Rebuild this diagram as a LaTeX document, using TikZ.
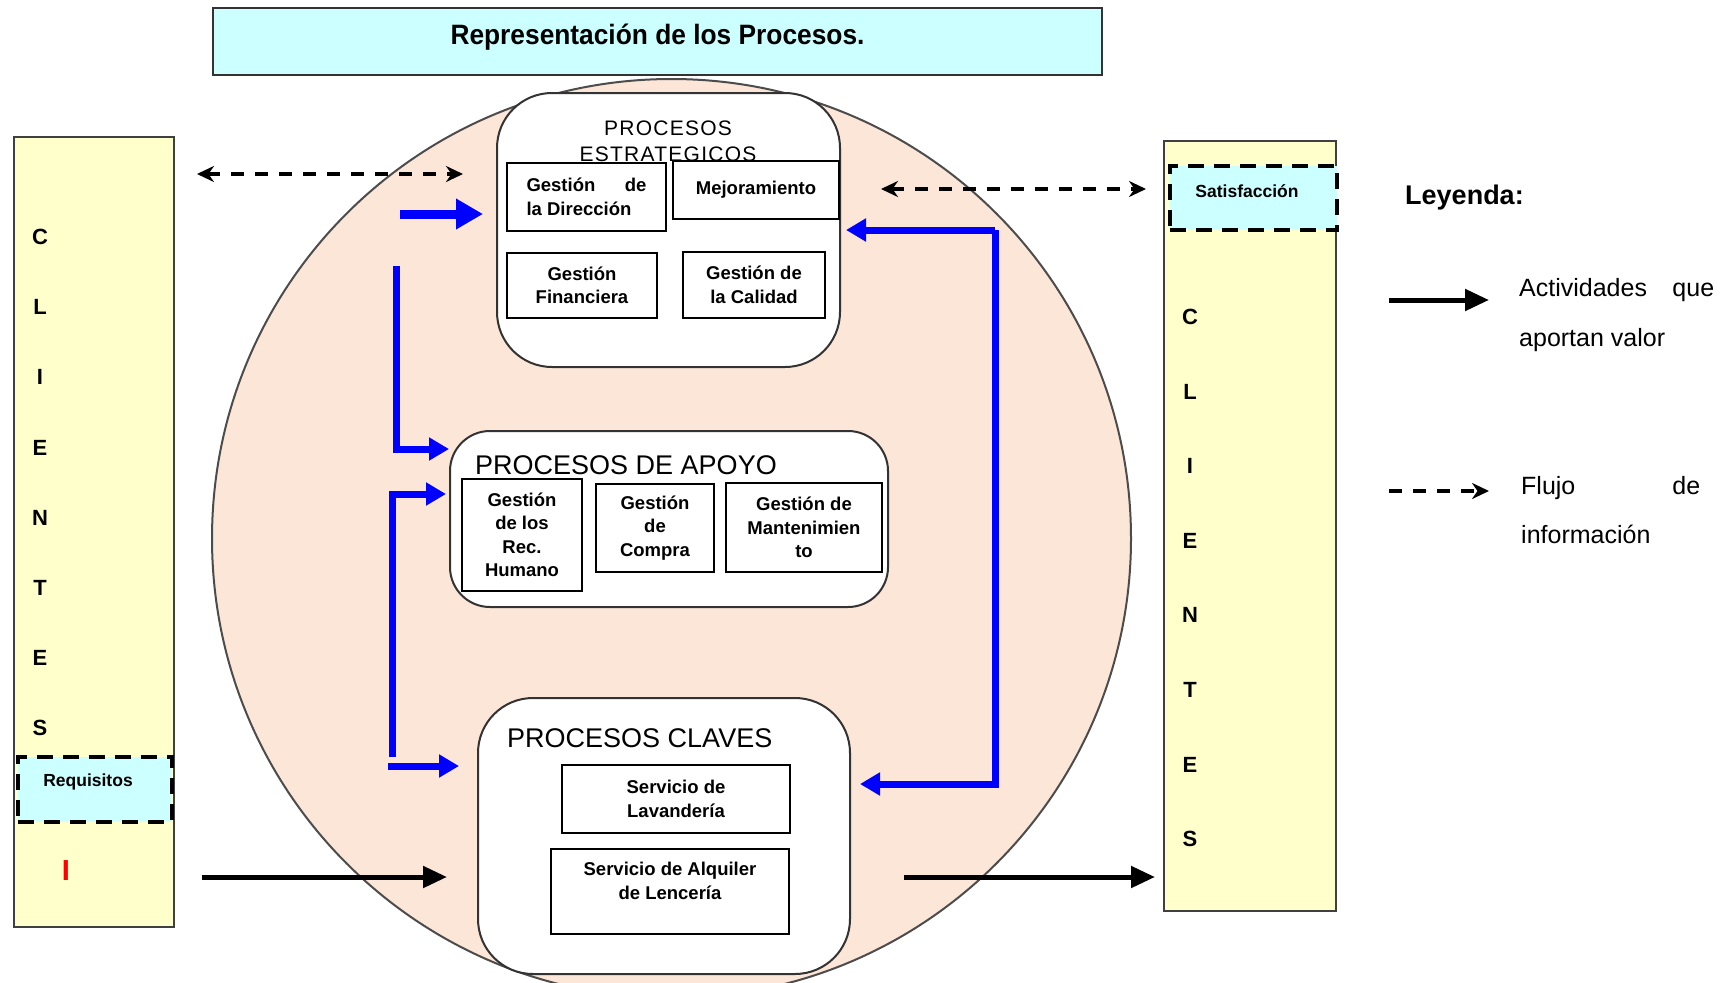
\documentclass[tikz,border=0pt]{standalone}
\usepackage{fontspec}
\setmainfont{Liberation Sans}
\newfontfamily\spacedfont[LetterSpace=6]{Liberation Sans}
\usetikzlibrary{arrows.meta}
\definecolor{peach}{RGB}{252,230,216}
\definecolor{cream}{RGB}{255,255,204}
\definecolor{paleblue}{RGB}{204,255,255}
\definecolor{flowblue}{RGB}{0,0,255}
\newcommand{\fs}[2]{\fontsize{#1}{#2}\selectfont}
\tikzset{
  client/.style={draw=black!75, line width=1.5pt, fill=cream, inner sep=0pt},
  dashbox/.style={draw=black, line width=4pt, dash pattern=on 16pt off 10pt, fill=paleblue, inner sep=0pt},
  group/.style={draw=black!80, line width=2pt, fill=white, inner sep=0pt},
  item/.style={draw=black, line width=1.5pt, fill=white, inner sep=0pt, align=center, font=\fs{18.5}{23.5}\bfseries},
  plain/.style={inner sep=0pt},
  letter/.style={inner sep=0pt, font=\fs{22}{26}\bfseries},
  bigflow/.style={draw=flowblue, line width=9pt, -{Triangle[length=27pt,width=29pt]}},
  flow/.style={draw=flowblue, line width=7pt, -{Triangle[length=20pt,width=22pt]}},
  valueflow/.style={draw=black, line width=5pt, -{Triangle[length=24pt,width=21pt]}},
  infoflow/.style={draw=black, line width=3.8pt, dash pattern=on 13pt off 11pt, {Stealth[length=17pt,width=16pt]}-{Stealth[length=17pt,width=16pt]}},
  infokey/.style={draw=black, line width=3.8pt, dash pattern=on 13pt off 11pt, -{Stealth[length=17pt,width=16pt]}}
}
\begin{document}
\begin{tikzpicture}[x=1pt,y=-1pt]
\useasboundingbox (0,0) rectangle (1728,982);

% title banner
\node[draw=black!80, line width=1.5pt, fill=paleblue, minimum width=889pt, minimum height=67pt, inner sep=0pt] (banner) at (657.5,41.5) {};
\node[plain, font=\fs{28}{32}\bfseries] (title) at (657.5,37) {\scalebox{0.94}[1]{Representación de los Procesos.}};

% process circle
\node[circle, draw=black!70, line width=2pt, fill=peach, minimum size=919pt, inner sep=0pt] (ring) at (671.5,538.5) {};

% client columns
\node[client, minimum width=160pt, minimum height=790pt] (cin) at (94,532) {};
\node[client, minimum width=172pt, minimum height=770pt] (cout) at (1250,526) {};

\foreach \ch [count=\i] in {C,L,I,E,N,T,E,S}
  \node[letter] (lin\i) at (40,{237+70.2*(\i-1)}) {\ch};
\foreach \ch [count=\i] in {C,L,I,E,N,T,E,S}
  \node[letter] (rin\i) at (1190,{317+74.6*(\i-1)}) {\ch};

\node[dashbox, minimum width=154pt, minimum height=65pt] (req) at (95,789.5) {};
\node[plain, font=\fs{17.5}{20}\bfseries] (reqt) at (88,782) {Requisitos};
\node[plain, text=red, font=\fs{29}{32}\bfseries] (redmark) at (66,871) {I};

\node[dashbox, minimum width=167pt, minimum height=64pt] (sat) at (1253.5,198) {};
\node[plain, font=\fs{17.5}{20}\bfseries] (satt) at (1247,191) {Satisfacción};

% strategic processes
\node[group, rounded corners=55pt, minimum width=343pt, minimum height=274pt] (strat) at (668.5,230) {};
\node[plain, align=center, font=\fs{21}{26}\spacedfont] (strath) at (668,141) {PROCESOS\\ESTRATEGICOS};
\node[item, minimum width=159pt, minimum height=68pt, align=left] (dir) at (586.5,197) {\makebox[120pt][s]{Gestión de}\\la Dirección};
\node[item, minimum width=166pt, minimum height=58pt] (mej) at (756,190) {Mejoramiento};
\node[item, minimum width=150pt, minimum height=65pt] (fin) at (582,285.5) {Gestión\\Financiera};
\node[item, minimum width=142pt, minimum height=66pt] (cal) at (754,285) {Gestión de\\la Calidad};

% support processes
\node[group, rounded corners=40pt, minimum width=438pt, minimum height=176pt] (apoyo) at (669,519) {};
\node[plain, anchor=west, font=\fs{27}{30}] (apoyoh) at (475,465) {PROCESOS DE APOYO};
\node[item, minimum width=120pt, minimum height=112pt] (rrhh) at (522,535) {Gestión\\de los\\Rec.\\Humano};
\node[item, minimum width=118pt, minimum height=88pt] (compra) at (655,528) {Gestión\\de\\Compra};
\node[item, minimum width=156pt, minimum height=89pt] (mant) at (804,527.5) {Gestión de\\Mantenimien\\to};

% key processes
\node[group, rounded corners=55pt, minimum width=372pt, minimum height=276pt] (claves) at (664,836) {};
\node[plain, anchor=west, font=\fs{27}{30}] (clavesh) at (507,738) {PROCESOS CLAVES};
\node[item, minimum width=228pt, minimum height=68pt] (lav) at (676,799) {Servicio de\\Lavandería};
\node[item, minimum width=238pt, minimum height=85pt] (alq) at (670,891.5) {};
\node[plain, align=center, font=\fs{18.5}{24}\bfseries] (alqt) at (670,880.5) {Servicio de Alquiler\\de Lencería};

% flow end points
\coordinate (s1) at (400,214);   \coordinate (e1) at (483,214);
\coordinate (s2) at (396,266);   \coordinate (k2) at (396,449);  \coordinate (e2) at (449,449);
\coordinate (s3) at (392,757);   \coordinate (k3) at (392,494);  \coordinate (e3) at (446,494);
\coordinate (s4) at (388,766);   \coordinate (e4) at (459,766);
\coordinate (e5) at (846,230);   \coordinate (k5) at (995,230);
\coordinate (k6) at (995,784);   \coordinate (e6) at (860,784);
\coordinate (d1a) at (197,174);  \coordinate (d1b) at (463,174);
\coordinate (d2a) at (881,189);  \coordinate (d2b) at (1146,189);
\coordinate (v1a) at (202,877);  \coordinate (v1b) at (447,877);
\coordinate (v2a) at (904,877);  \coordinate (v2b) at (1155,877);

% blue internal flows
\draw[bigflow] (s1) -- (e1);
\draw[flow] (s2) -- (k2) -- (e2);
\draw[flow] (s3) -- (k3) -- (e3);
\draw[flow] (s4) -- (e4);
\draw[flow] (k5) -- (k6) -- (e6);
\draw[flow] (k5) -- (e5);

% information flows
\draw[infoflow] (d1a) -- (d1b);
\draw[infoflow] (d2a) -- (d2b);

% value-adding flows
\draw[valueflow] (v1a) -- (v1b);
\draw[valueflow] (v2a) -- (v2b);

% legend
\node[plain, anchor=west, font=\fs{27}{30}\bfseries] (leyenda) at (1405,198) {Leyenda:};
\coordinate (l1a) at (1389,300); \coordinate (l1b) at (1489,300);
\coordinate (l2a) at (1389,491); \coordinate (l2b) at (1489,491);
\draw[valueflow] (l1a) -- (l1b);
\draw[infokey] (l2a) -- (l2b);
\node[plain, anchor=west, align=left, font=\fs{25}{50}] (key1) at (1519,315) {\makebox[195pt][s]{Actividades que}\\aportan valor};
\node[plain, anchor=west, align=left, font=\fs{25}{49}] (key2) at (1521,510) {\makebox[179pt][s]{Flujo de}\\información};
\end{tikzpicture}
\end{document}
